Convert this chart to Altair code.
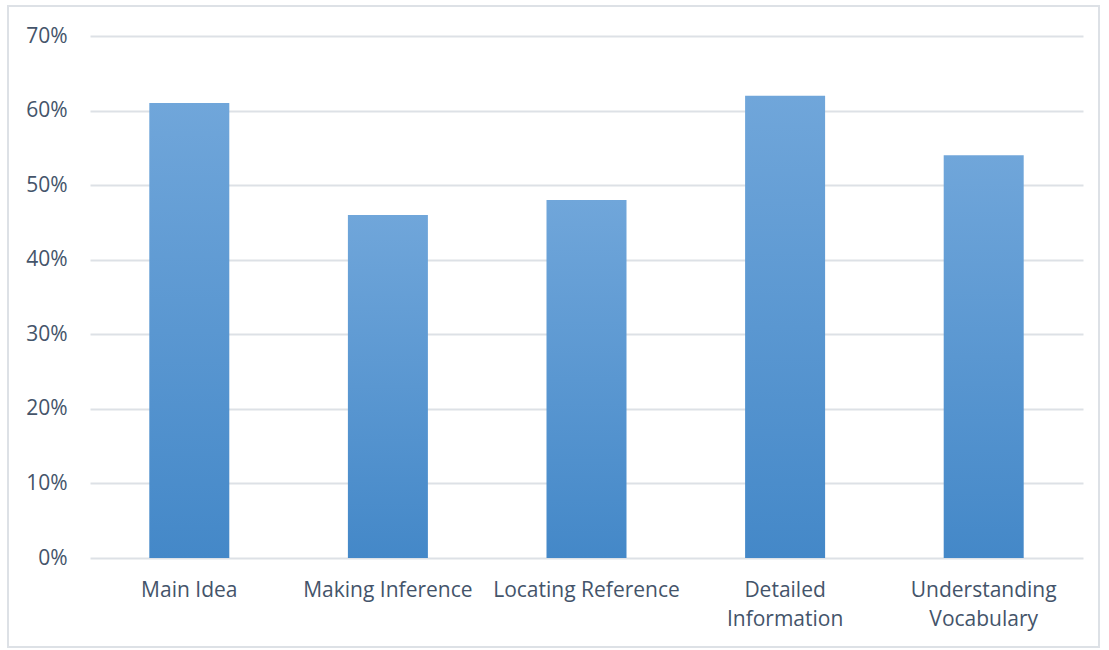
import altair as alt
import pandas as pd

categories = ["Main Idea", "Making Inference", "Locating Reference", "Detailed Information", "Understanding Vocabulary"]
values = [0.61, 0.46, 0.48, 0.62, 0.54]
y_ticks = [0, 0.1, 0.2, 0.3, 0.4, 0.5, 0.6, 0.7]

df = pd.DataFrame({"category": categories, "value": values})

grad = alt.Gradient(
    gradient="linear",
    stops=[alt.GradientStop(color="#70a6da", offset=0), alt.GradientStop(color="#4488c8", offset=1)],
    x1=0, x2=0, y1=0, y2=1,
)

FONT = "Open Sans"

bars = alt.Chart(df).mark_bar(color=grad, size=80).encode(
    x=alt.X("category:N", sort=categories, title=None,
            scale=alt.Scale(paddingInner=0.6, paddingOuter=0.3),
            axis=alt.Axis(labelAngle=0, labelFont=FONT, labelFontSize=21, labelColor="#44546a",
                          labelPadding=21, labelLineHeight=29, ticks=False, domain=False,
                          labelLimit=300, labelOverlap=False,
                          labelExpr="length(datum.label) > 19 ? split(datum.label, ' ') : datum.label")),
    y=alt.Y("value:Q", title=None,
            scale=alt.Scale(domain=[0, 0.7], nice=False),
            axis=alt.Axis(values=y_ticks, format=".0%", labelFont=FONT, labelFontSize=21,
                          labelColor="#44546a", labelPadding=23, ticks=False, domain=False,
                          gridColor="#dde1e6", gridWidth=2)),
)

border = alt.Chart(df).mark_rect(fill=None, stroke="#dde1e6", strokeWidth=2).encode(
    x=alt.value(-82), x2=alt.value(1009), y=alt.value(-30), y2=alt.value(89 + 522)
)

chart = alt.layer(border, bars).properties(
    width=993, height=522,
    autosize=alt.AutoSizeParams(type="none"),
    padding={"left": 90, "top": 36, "right": 26, "bottom": 92},
).configure_view(stroke=None)

chart.save("out.html", embed_options={"renderer": "svg", "actions": False})
